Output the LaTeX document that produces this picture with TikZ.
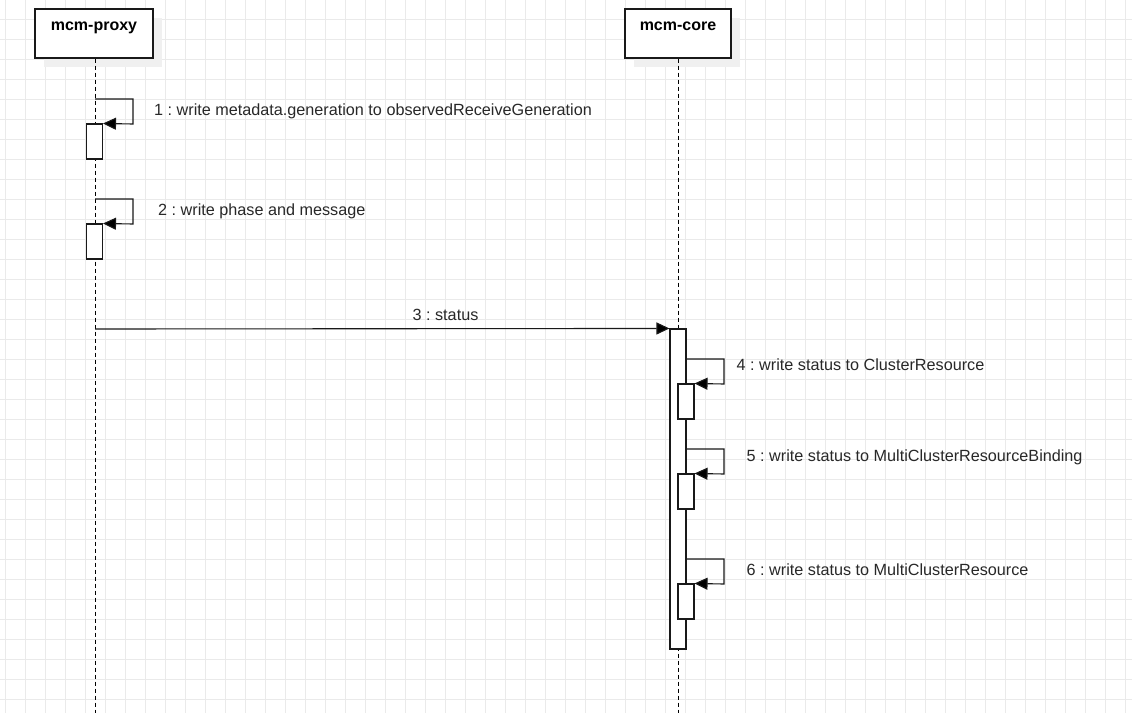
\documentclass[tikz,border=0pt]{standalone}
\usepackage{fontspec}
\setmainfont{Liberation Sans}
\usetikzlibrary{arrows.meta}
\frenchspacing
\definecolor{gridc}{RGB}{234,234,234}
\definecolor{shadowc}{RGB}{240,240,240}
\definecolor{linec}{RGB}{25,25,25}
\definecolor{txtc}{RGB}{40,40,40}
\tikzset{
  gridline/.style={draw=gridc, line width=0.8pt},
  actor/.style={draw=linec, fill=white, line width=1.1pt, minimum width=118pt, minimum height=49pt, inner sep=0pt},
  actshadow/.style={fill=shadowc, draw=none, minimum width=118pt, minimum height=49pt, inner sep=0pt},
  acttitle/.style={font=\bfseries\fontsize{16}{19}\selectfont, text=black, inner sep=0pt, anchor=base},
  lifeline/.style={draw=black, line width=1pt, dash pattern=on 4pt off 3pt},
  actbox/.style={draw=linec, fill=white, line width=1.1pt, minimum width=16pt, inner sep=0pt},
  msg/.style={draw=linec, line width=1.1pt, -{Triangle[length=13pt,width=12pt,fill=black]}},
  msglabel/.style={font=\fontsize{16.2}{19}\selectfont, text=txtc, inner sep=0pt, anchor=base west},
}
\begin{document}
\begin{tikzpicture}[x=1pt,y=-1pt]
\useasboundingbox (0,0) rectangle (1132,713);
\fill[white] (0,0) rectangle (1132,713);
% grid
\foreach \x in {5,25,...,1125} \draw[gridline] (\x,0) -- (\x,713);
\foreach \y in {19,39,...,699} \draw[gridline] (0,\y) -- (1132,\y);

% actors
\node[actshadow] (proxyS) at (103,42) {};
\node[actshadow, minimum width=106pt] (coreS) at (687,42) {};
\node[actor] (proxy) at (94,33.5) {};
\node[actor, minimum width=106pt] (core) at (678,33.5) {};
\node[acttitle] (proxyT) at (94,30) {mcm-proxy};
\node[acttitle] (coreT) at (678,30) {mcm-core};

% lifelines
\coordinate (proxyEnd) at (95,713);
\coordinate (coreEnd) at (678,713);
\draw[lifeline] (proxy.south -| proxyEnd) -- (proxyEnd);
\draw[lifeline] (core.south) -- (coreEnd);

% activations
\node[actbox, minimum height=35pt] (a1) at (94.5,141.5) {};
\node[actbox, minimum height=35pt] (a2) at (94.5,241.5) {};
\node[actbox, minimum height=320pt] (a3) at (678,489) {};
\node[actbox, minimum height=35pt] (a4) at (686,401.5) {};
\node[actbox, minimum height=35pt] (a5) at (686,491.5) {};
\node[actbox, minimum height=35pt] (a6) at (686,601.5) {};

% self message 1
\coordinate (s1) at (95,99);
\coordinate (t1) at (133,124);
\draw[msg] (s1) -| (t1) -- (a1.north east);
\node[msglabel] (l1) at (154,115) {1 : write metadata.generation to observedReceiveGeneration};

% self message 2
\coordinate (s2) at (95,199);
\coordinate (t2) at (133,224);
\draw[msg] (s2) -| (t2) -- (a2.north east);
\node[msglabel] (l2) at (158,215) {2 : write phase and message};

% message 3
\coordinate (s3) at (95,329);
\draw[msg] (s3) -- (a3.north west);
\node[msglabel, anchor=base] (l3) at (445.5,320.5) {3 : status};

% self message 4
\coordinate (s4) at (686,359);
\coordinate (t4) at (724,384);
\draw[msg] (s4) -| (t4) -- (a4.north east);
\node[msglabel] (l4) at (736.5,370.5) {4 : write status to ClusterResource};

% self message 5
\coordinate (s5) at (686,449);
\coordinate (t5) at (724,474);
\draw[msg] (s5) -| (t5) -- (a5.north east);
\node[msglabel] (l5) at (746.5,461) {5 : write status to MultiClusterResourceBinding};

% self message 6
\coordinate (s6) at (686,559);
\coordinate (t6) at (724,584);
\draw[msg] (s6) -| (t6) -- (a6.north east);
\node[msglabel] (l6) at (746.5,575) {6 : write status to MultiClusterResource};
\end{tikzpicture}
\end{document}
